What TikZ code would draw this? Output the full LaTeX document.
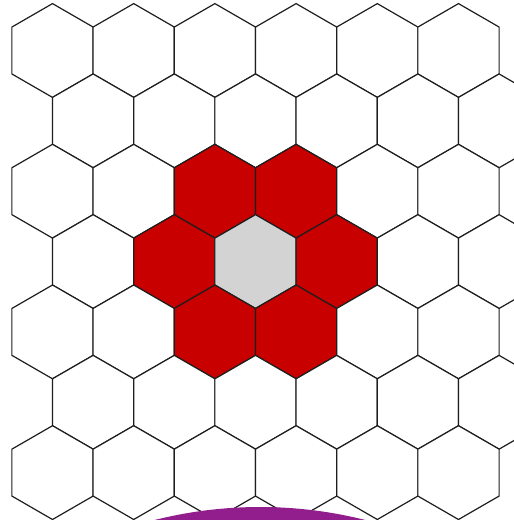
\documentclass[tikz,border=0pt]{standalone}
\usetikzlibrary{shapes.geometric}
\definecolor{cellred}{RGB}{200,0,0}
\definecolor{cellgray}{RGB}{211,211,211}
\definecolor{cellline}{RGB}{30,30,30}
\definecolor{blobpurple}{RGB}{146,30,141}

\begin{document}
\begin{tikzpicture}[
    x=1pt, y=-1pt,
    cell/.style={
        regular polygon,
        regular polygon sides=6,
        shape border rotate=30,
        draw=cellline,
        line width=1.2pt,
        fill=white,
        minimum size=93.8pt,
        inner sep=0pt
    },
    % centre cell and its six neighbours
    hl-3-2/.style={fill=cellgray},
    hl-2-2/.style={fill=cellred},
    hl-2-3/.style={fill=cellred},
    hl-3-1/.style={fill=cellred},
    hl-3-3/.style={fill=cellred},
    hl-4-2/.style={fill=cellred},
    hl-4-3/.style={fill=cellred}
]

% Frame
\useasboundingbox (0,0) rectangle (514,520);
\clip (0,0) rectangle (514,520);
\fill[white] (0,0) rectangle (514,520);

% Hexagonal grid, odd rows shifted by half a cell
\foreach \r in {0,...,6}
  \foreach \c in {0,...,5} {
    \pgfmathsetmacro{\cx}{52.5+81.2*\c+40.6*mod(\r,2)}
    \pgfmathsetmacro{\cy}{50.5+70.35*\r}
    \node[cell, hl-\r-\c/.try] (cell-\r-\c) at (\cx,\cy) {};
  }

% Purple shape at the bottom
\fill[blobpurple] (260,937) circle (430);

\end{tikzpicture}
\end{document}
